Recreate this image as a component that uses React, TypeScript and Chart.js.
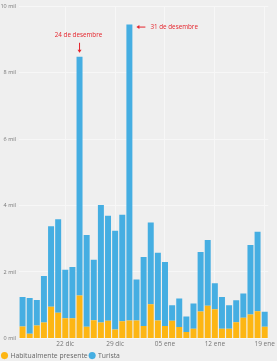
import React, { useEffect, useRef } from 'react';
import { Chart, registerables } from 'chart.js';

Chart.register(...registerables);

const categories = [
  '16 dic', '17 dic', '18 dic', '19 dic', '20 dic', '21 dic', '22 dic',
  '23 dic', '24 dic', '25 dic', '26 dic', '27 dic', '28 dic', '29 dic',
  '30 dic', '31 dic', '01 ene', '02 ene', '03 ene', '04 ene', '05 ene',
  '06 ene', '07 ene', '08 ene', '09 ene', '10 ene', '11 ene', '12 ene',
  '13 ene', '14 ene', '15 ene', '16 ene', '17 ene', '18 ene', '19 ene',
];

const habitual = [
  360, 140, 390, 480, 950, 770, 610, 610, 1290, 350, 550, 480, 530, 270,
  520, 540, 540, 370, 1030, 540, 370, 530, 340, 190, 290, 810, 980, 880,
  290, 290, 490, 620, 720, 820, 350,
];

const turista = [
  890, 1080, 770, 1400, 2430, 2820, 1460, 1540, 7190, 2760, 1820, 3540, 3160, 2970,
  3200, 8910, 1230, 2080, 2460, 2040, 1930, 470, 860, 470, 760, 1790, 1980, 780,
  960, 710, 660, 730, 2090, 2390, 450,
];

const seriesNames = ['Habitualmente presente', 'Turista'];
const yTicks = [0, 2000, 4000, 6000, 8000, 10000];
const notes = [
  { index: 8, text: '24 de desembre', dir: 'down' },
  { index: 15, text: '31 de desembre', dir: 'left' },
];

const FONT = '"Open Sans", "Noto Sans", sans-serif';
const RED = '#e5232b';

const annotationPlugin = {
  id: 'notes',
  afterDatasetsDraw(chart: any) {
    const { ctx, scales } = chart;
    const xs = scales.x;
    const ys = scales.y;
    ctx.save();
    ctx.fillStyle = RED;
    ctx.strokeStyle = RED;
    ctx.lineWidth = 1;
    ctx.font = `6.3px ${FONT}`;
    ctx.textBaseline = 'middle';
    for (const n of notes) {
      const total = habitual[n.index] + turista[n.index];
      const x = xs.getPixelForValue(n.index);
      const yTop = ys.getPixelForValue(total);
      if (n.dir === 'down') {
        ctx.textAlign = 'center';
        ctx.fillText(n.text, x - 1, yTop - 22);
        const y1 = yTop - 14;
        const y2 = yTop - 4;
        ctx.beginPath();
        ctx.moveTo(x, y1);
        ctx.lineTo(x, y2 - 2);
        ctx.stroke();
        ctx.beginPath();
        ctx.moveTo(x - 2, y2 - 3);
        ctx.lineTo(x + 2, y2 - 3);
        ctx.lineTo(x, y2);
        ctx.closePath();
        ctx.fill();
      } else {
        const y = yTop + 2.5;
        const x1 = x + 7;
        const x2 = x + 16;
        ctx.beginPath();
        ctx.moveTo(x1 + 2, y);
        ctx.lineTo(x2, y);
        ctx.stroke();
        ctx.beginPath();
        ctx.moveTo(x1 + 3, y - 2);
        ctx.lineTo(x1 + 3, y + 2);
        ctx.lineTo(x1, y);
        ctx.closePath();
        ctx.fill();
        ctx.textAlign = 'left';
        ctx.fillText(n.text, x2 + 5, y);
      }
    }
    ctx.restore();
  },
};

export default function App() {
  const ref = useRef<HTMLCanvasElement | null>(null);

  useEffect(() => {
    document.body.style.margin = '0';
    const canvas = ref.current;
    if (!canvas) return;
    const chart = new Chart(canvas, {
      type: 'bar',
      data: {
        labels: categories,
        datasets: [
          {
            label: seriesNames[0],
            data: habitual,
            backgroundColor: '#fdb614',
            barPercentage: 0.84,
            categoryPercentage: 1,
          },
          {
            label: seriesNames[1],
            data: turista,
            backgroundColor: '#45aee2',
            barPercentage: 0.84,
            categoryPercentage: 1,
          },
        ],
      },
      options: {
        animation: false,
        responsive: true,
        maintainAspectRatio: false,
        layout: { padding: { top: 0, left: 0, right: 7, bottom: -8 } },
        scales: {
          x: {
            stacked: true,
            border: { display: false },
            grid: {
              offset: false,
              drawTicks: false,
              color: (c: any) => (c.index % 7 === 6 ? '#f7f7f7' : 'rgba(0,0,0,0)'),
            },
            ticks: {
              autoSkip: false,
              maxRotation: 0,
              minRotation: 0,
              padding: 2,
              color: '#777',
              font: { size: 6.5, family: FONT },
              callback: (_v: any, i: number) => (i % 7 === 6 ? categories[i] : ''),
            },
          },
          y: {
            stacked: true,
            min: yTicks[0],
            max: yTicks[yTicks.length - 1],
            border: { display: false },
            grid: { drawTicks: false, color: '#f7f7f7' },
            afterBuildTicks: (s: any) => {
              s.ticks = yTicks.map((v) => ({ value: v }));
            },
            afterFit: (s: any) => {
              s.width = 19;
            },
            ticks: {
              padding: 3,
              color: '#777',
              font: { size: 5.5, family: FONT },
              callback: (v: any) => `${Number(v) / 1000} mil`,
            },
          },
        },
        plugins: {
          tooltip: { enabled: false },
          legend: {
            position: 'bottom',
            align: 'start',
            labels: {
              usePointStyle: true,
              pointStyle: 'circle',
              boxWidth: 5,
              boxHeight: 5,
              padding: 2,
              color: '#666',
              font: { size: 6.8, family: FONT },
            },
          },
        },
      },
      plugins: [annotationPlugin],
    });
    return () => chart.destroy();
  }, []);

  return (
    <div style={{ position: 'fixed', left: 0, top: 0, width: 277, height: 361, background: '#efefef' }}>
      <canvas ref={ref} />
    </div>
  );
}
